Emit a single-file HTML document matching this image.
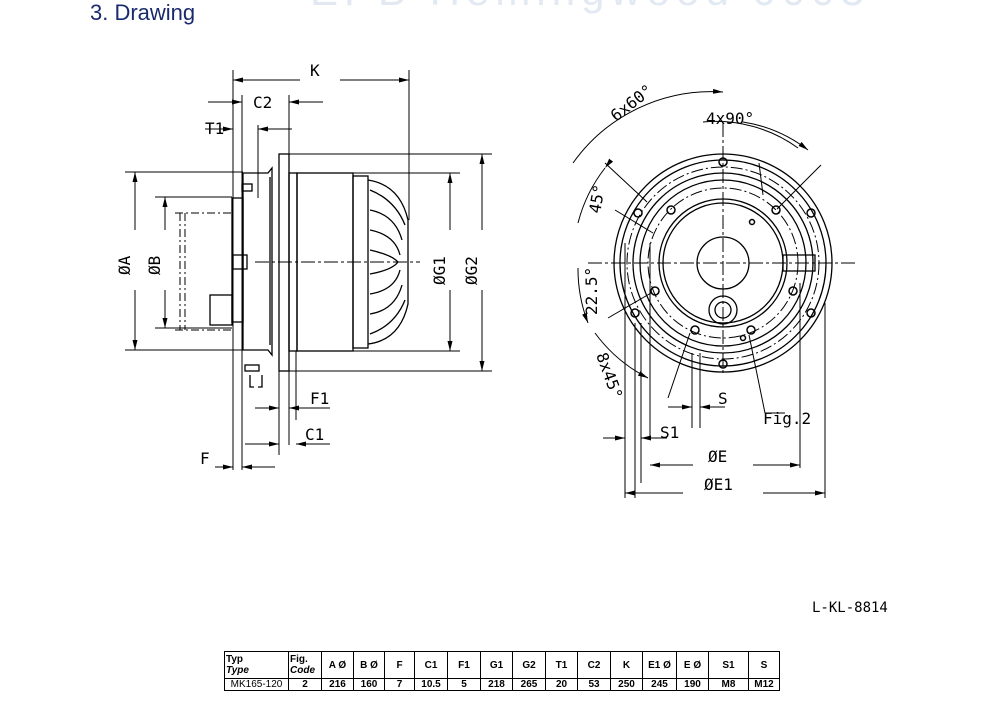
<!DOCTYPE html>
<html><head><meta charset="utf-8"><style>
body{margin:0;background:#fff;width:1000px;height:708px;overflow:hidden;position:relative;font-family:"Liberation Sans",sans-serif}
.h{position:absolute;left:90px;top:0px;font-size:22px;color:#1a2a6e}
.wm{position:absolute;left:310px;top:-33px;font-size:42px;color:#e3e9f3;letter-spacing:6px}
table{position:absolute;left:224px;top:651px;border-collapse:collapse;font-size:10px;font-weight:bold;width:555px;table-layout:fixed}
td{border:1.5px solid #000;padding:0 1px;text-align:center;line-height:11px;overflow:hidden;white-space:nowrap}
</style></head><body>
<div class="wm">EPB Hemingwood 0003</div>
<div class="h">3. Drawing</div>
<svg width="1000" height="708" style="position:absolute;left:0;top:0" font-family="DejaVu Sans Mono, Liberation Mono, monospace" font-size="16">
<defs><marker id="a" markerWidth="10" markerHeight="6" refX="10" refY="3" orient="auto" markerUnits="userSpaceOnUse"><path d="M0,0.5L10,3L0,5.5z"/></marker></defs>
<g stroke="#000" fill="none" stroke-width="1.3">
<rect x="279" y="154" width="10" height="217"/>
<rect x="289" y="173" width="8" height="178"/>
<rect x="297" y="173" width="56" height="178"/>
<rect x="353" y="176" width="15" height="172"/>
<path d="M368,180 Q400,185 408,220 L408,304 Q400,340 368,344"/>
<path d="M370,190 Q395,200 405,225 M370,210 Q395,215 402,240 M370,230 Q395,235 400,255 M370,250 Q392,255 398,262 M370,274 Q392,270 398,262 M370,294 Q395,290 400,270 M370,314 Q395,310 402,285 M370,334 Q395,325 405,300"/>
<path d="M243,173 L268,173 L272,168 L272,355 L268,350 L243,350 Z"/>
<line x1="270" y1="177" x2="270" y2="345"/>
<rect x="232" y="198" width="11" height="124"/>
<rect x="242" y="184" width="10" height="7"/>
<rect x="233" y="255" width="14" height="14"/>
<rect x="210" y="295" width="22" height="30"/>
<rect x="245" y="365" width="14" height="6"/>
<path d="M250,375 v12 h4 M262,375 v12 h-4"/>
<path d="M175,213 H232 M175,330 H232 M180,213 V330 M185,213 V330" stroke-dasharray="8,3,2,3" stroke-width="1"/>
<path d="M255,262 H420" stroke-dasharray="14,3,3,3" stroke-width="1"/>
<g stroke-width="1">
<line x1="233" y1="70" x2="233" y2="470"/><line x1="409" y1="70" x2="409" y2="220"/>
<line x1="242" y1="95" x2="242" y2="470"/><line x1="289" y1="95" x2="289" y2="154"/>
<line x1="258" y1="125" x2="258" y2="198"/>
<line x1="279" y1="371" x2="279" y2="455"/><line x1="289" y1="371" x2="289" y2="445"/><line x1="296" y1="351" x2="296" y2="420"/>
<line x1="125" y1="172" x2="243" y2="172"/><line x1="125" y1="350" x2="243" y2="350"/>
<line x1="155" y1="197" x2="232" y2="197"/><line x1="155" y1="328" x2="232" y2="328"/>
<line x1="353" y1="173" x2="460" y2="173"/><line x1="353" y1="351" x2="460" y2="351"/>
<line x1="289" y1="154" x2="492" y2="154"/><line x1="289" y1="371" x2="492" y2="371"/>
</g>
<g stroke-width="1" marker-end="url(#a)" fill="#000">
<line x1="300" y1="80" x2="233" y2="80"/><line x1="340" y1="80" x2="409" y2="80"/>
<line x1="208" y1="102" x2="242" y2="102"/><line x1="323" y1="102" x2="289" y2="102"/>
<line x1="205" y1="129" x2="233" y2="129"/><line x1="292" y1="129" x2="258" y2="129"/>
<line x1="135" y1="230" x2="135" y2="172"/><line x1="135" y1="290" x2="135" y2="350"/>
<line x1="165" y1="230" x2="165" y2="197"/><line x1="165" y1="290" x2="165" y2="328"/>
<line x1="450" y1="230" x2="450" y2="173"/><line x1="450" y1="290" x2="450" y2="351"/>
<line x1="482" y1="230" x2="482" y2="154"/><line x1="482" y1="290" x2="482" y2="371"/>
<line x1="255" y1="408" x2="279" y2="408"/><line x1="330" y1="408" x2="289" y2="408"/>
<line x1="245" y1="444" x2="279" y2="444"/><line x1="330" y1="444" x2="296" y2="444"/>
<line x1="215" y1="467" x2="233" y2="467"/><line x1="275" y1="467" x2="242" y2="467"/>
</g>
</g>
<g fill="#000" stroke="none">
<text x="310" y="76">K</text><text x="253" y="108">C2</text><text x="205" y="134">T1</text>
<text x="310" y="404">F1</text><text x="305" y="440">C1</text><text x="200" y="464">F</text>
<text transform="translate(130,275) rotate(-90)">ØA</text>
<text transform="translate(160,275) rotate(-90)">ØB</text>
<text transform="translate(445,285) rotate(-90)">ØG1</text>
<text transform="translate(477,285) rotate(-90)">ØG2</text>
</g>
<g transform="translate(723,263)" stroke="#000" fill="none" stroke-width="1.3">
<circle r="109"/><circle r="103"/><circle r="96" stroke-dasharray="12,3,2,3" stroke-width="1"/><circle r="90"/><circle r="83"/>
<circle r="75" stroke-dasharray="12,3,2,3" stroke-width="1"/><circle r="64"/><circle r="60"/><circle r="26"/>
<circle cy="47" r="14"/><circle cy="47" r="8"/>
<rect x="60" y="-8" width="32" height="16"/>
<g stroke-width="1.5">
<circle cx="0" cy="-101" r="4"/><circle cx="88" cy="-50" r="4"/><circle cx="-85" cy="-50" r="4"/>
<circle cx="-88" cy="50" r="4"/><circle cx="88" cy="50" r="4"/><circle cx="0" cy="101" r="4"/>
<circle cx="-52" cy="-53" r="4"/><circle cx="53" cy="-53" r="4"/><circle cx="-68" cy="28" r="4"/><circle cx="70" cy="28" r="4"/>
<circle cx="-28" cy="67" r="4"/><circle cx="28" cy="67" r="4"/>
<circle cx="29" cy="-41" r="2.5"/><circle cx="20" cy="75" r="2.5"/>
</g>
<path d="M-135,0 H135 M0,-140 V112" stroke-dasharray="14,3,3,3" stroke-width="1"/>
<g stroke-width="1">
<path d="M-76,-61 L-118,-100 M-108,-53 L-70,-30"/>
<path d="M54,-54 L98,-98 M-72,30 L-115,55"/>
<path d="M40,-68 L36,-100"/>
<path d="M-33,70 L-55,135 M26,72 L42,150 H62"/>
<path d="M-150,-100 A170,170 0 0 1 0,-171" marker-end="url(#a)"/>
<path d="M-20,-141 A140,140 0 0 1 75,-115"/><path d="M20,-141 A142,142 0 0 1 85,-113" marker-end="url(#a)"/>
<path d="M-118,-95 A150,150 0 0 0 -145,-40" marker-start="url(#a)"/>
<path d="M-145,5 A150,150 0 0 0 -135,60" marker-end="url(#a)"/>
<path d="M-128,70 A150,150 0 0 0 -75,115" marker-end="url(#a)"/>
<path d="M-98,-20 V235 M-73,-20 V175 M-88,60 V235 M-82,60 V220 M-31,90 V165 M-23,90 V165 M77,20 V205 M102,40 V235"/>
</g>
<g stroke-width="1" fill="#000" marker-end="url(#a)">
<line x1="-55" y1="144" x2="-31" y2="144"/><line x1="2" y1="144" x2="-23" y2="144"/>
<line x1="-120" y1="175" x2="-98" y2="175"/><line x1="-56" y1="175" x2="-82" y2="175"/>
<line x1="-30" y1="202" x2="-73" y2="202"/><line x1="30" y1="202" x2="77" y2="202"/>
<line x1="-40" y1="230" x2="-98" y2="230"/><line x1="40" y1="230" x2="102" y2="230"/>
</g>
</g>
<g fill="#000" stroke="none" font-size="16">
<text x="718" y="404">S</text><text x="660" y="438">S1</text><text x="763" y="424">Fig.2</text>
<text x="708" y="462">ØE</text><text x="704" y="490">ØE1</text>
<text x="706" y="124">4x90°</text>
<text transform="translate(616,122) rotate(-38)">6x60°</text>
<text transform="translate(600,214) rotate(-80)">45°</text>
<text transform="translate(597,315) rotate(-90)">22.5°</text>
<text transform="translate(596,355) rotate(70)">8x45°</text>
<text x="812" y="612" font-size="14">L-KL-8814</text>
</g>
</svg>
<table>
<colgroup><col style="width:64px"><col style="width:33px"><col style="width:32px"><col style="width:31px"><col style="width:30px"><col style="width:33px"><col style="width:33px"><col style="width:32px"><col style="width:33px"><col style="width:32px"><col style="width:33px"><col style="width:32px"><col style="width:34px"><col style="width:32px"><col style="width:40px"><col style="width:31px"></colgroup>
<tr style="height:27px"><td style="text-align:left">Typ<br><i>Type</i></td><td style="text-align:left">Fig.<br><i>Code</i></td><td>A Ø</td><td>B Ø</td><td>F</td><td>C1</td><td>F1</td><td>G1</td><td>G2</td><td>T1</td><td>C2</td><td>K</td><td>E1 Ø</td><td>E Ø</td><td>S1</td><td>S</td></tr>
<tr><td style="font-weight:normal">MK165-120</td><td>2</td><td>216</td><td>160</td><td>7</td><td>10.5</td><td>5</td><td>218</td><td>265</td><td>20</td><td>53</td><td>250</td><td>245</td><td>190</td><td>M8</td><td>M12</td></tr>
</table>
</body></html>
